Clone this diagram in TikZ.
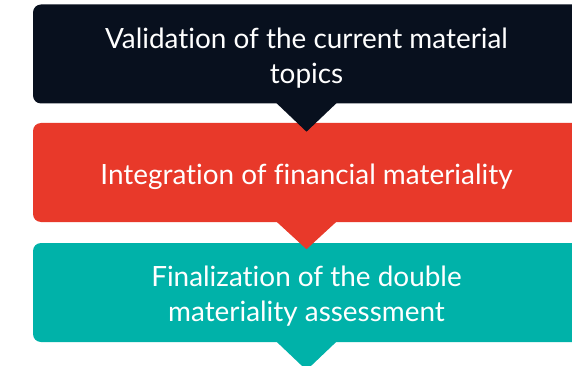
\documentclass[tikz,border=0pt]{standalone}
\usepackage{fontspec}
\setmainfont[Ligatures={NoCommon}]{Lato}
\definecolor{navy}{HTML}{08101E}
\definecolor{redc}{HTML}{E8392A}
\definecolor{tealc}{HTML}{00B2A9}
\begin{document}
\begin{tikzpicture}[x=1pt,y=-1pt,
  stage/.style={rounded corners=8pt, minimum width=547pt, minimum height=99pt, inner sep=0pt},
  caption/.style={text=white, align=center, inner sep=0pt, font=\fontsize{27.9}{35}\selectfont}]
\useasboundingbox (0,0) rectangle (572,366);
\clip (0,0) rectangle (572,366);
\node[stage, fill=navy] (s1) at (306.5,54) {};
\node[stage, fill=redc] (s2) at (306.5,172.5) {};
\node[stage, fill=tealc] (s3) at (306.5,292.5) {};
\fill[navy] ([xshift=-30.5pt,yshift=1pt]s1.south) -- ([xshift=30.5pt,yshift=1pt]s1.south) -- ([yshift=-28pt]s1.south) -- cycle;
\fill[redc] ([xshift=-30.5pt,yshift=1pt]s2.south) -- ([xshift=30.5pt,yshift=1pt]s2.south) -- ([yshift=-27pt]s2.south) -- cycle;
\fill[tealc] ([xshift=-30.5pt,yshift=1pt]s3.south) -- ([xshift=30.5pt,yshift=1pt]s3.south) -- ([yshift=-28pt]s3.south) -- cycle;
\node[caption] (t1) at ([yshift=-4pt]s1.center) {Validation of the current material\\topics};
\node[caption] (t2) at ([yshift=-4pt]s2.center) {Integration of financial materiality};
\node[caption] (t3) at ([yshift=-4pt]s3.center) {Finalization of the double\\materiality assessment};
\end{tikzpicture}
\end{document}
